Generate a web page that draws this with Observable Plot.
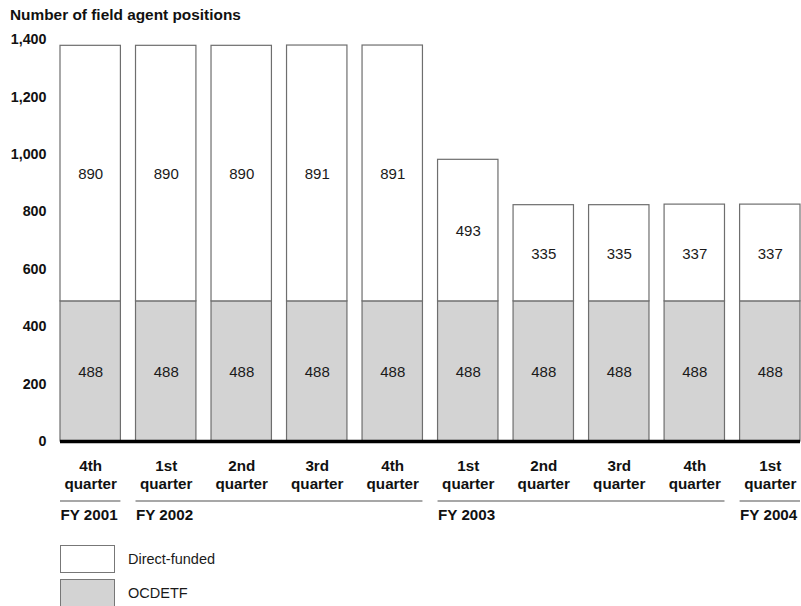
<!DOCTYPE html>
<html>
<head>
<meta charset="utf-8">
<script src="https://cdn.jsdelivr.net/npm/d3@7"></script>
<script src="https://cdn.jsdelivr.net/npm/@observablehq/plot@0.6"></script>
<style>
  body { margin: 0; background: #fff; font-family: "Liberation Sans", Arial, Helvetica, sans-serif; }
  #wrap { position: relative; width: 801px; height: 606px; overflow: hidden; }
  #title { position: absolute; left: 10px; top: 6px; font-weight: bold; font-size: 15.4px; color: #111; white-space: nowrap; }
  #chart { position: absolute; left: 0; top: 28px; }
  #chart svg [aria-label^="y-axis"] text { font-weight: bold; font-size: 14.3px; fill: #111; }
  .sw { position: absolute; left: 60px; width: 55px; height: 28px; box-sizing: border-box; border: 1.5px solid #777; }
  .lt { position: absolute; left: 128px; font-size: 14.5px; color: #1a1a1a; line-height: 18px; white-space: nowrap; }
</style>
</head>
<body>
<div id="wrap">
  <div id="title">Number of field agent positions</div>
  <div id="chart"></div>
  <div id="legend"></div>
</div>
<script>
// ---- data ----
const quarters    = ["4th", "1st", "2nd", "3rd", "4th", "1st", "2nd", "3rd", "4th", "1st"];
const fiscalYears = ["FY 2001", "FY 2002", "FY 2002", "FY 2002", "FY 2002", "FY 2003", "FY 2003", "FY 2003", "FY 2003", "FY 2004"];
const ocdetf       = [488, 488, 488, 488, 488, 488, 488, 488, 488, 488];
const directFunded = [890, 890, 890, 891, 891, 493, 335, 335, 337, 337];
const seriesNames  = ["OCDETF", "Direct-funded"];
const seriesFills  = ["#d3d3d3", "#ffffff"];
const yTicks       = [0, 200, 400, 600, 800, 1000, 1200, 1400];
const legendOrder  = ["Direct-funded", "OCDETF"];

// ---- derived tables ----
const categories = fiscalYears.map((fy, i) => fy + " | " + quarters[i]);
const rows = [
  ...categories.map((c, i) => ({cat: c, series: "OCDETF", value: ocdetf[i]})),
  ...categories.map((c, i) => ({cat: c, series: "Direct-funded", value: directFunded[i]}))
];
const labelRows = [
  ...categories.map((c, i) => ({cat: c, mid: ocdetf[i] / 2, text: String(ocdetf[i])})),
  ...categories.map((c, i) => ({cat: c, mid: ocdetf[i] + directFunded[i] / 2, text: String(directFunded[i])}))
];
const fyGroups = [];
fiscalYears.forEach((fy, i) => {
  const g = fyGroups.find(d => d.label === fy);
  if (g) g.last = categories[i];
  else fyGroups.push({label: fy, first: categories[i], last: categories[i]});
});

const font = '"Liberation Sans", Arial, Helvetica, sans-serif';

const plot = Plot.plot({
  width: 801,
  height: 502,
  marginTop: 11,
  marginBottom: 89,
  marginLeft: 60,
  marginRight: 1,
  style: {fontFamily: font, fontSize: "15px", color: "#111", background: "transparent", overflow: "visible"},
  x: {domain: categories, paddingInner: 0.2, paddingOuter: 0, round: false, axis: null},
  y: {domain: [0, 1400], ticks: yTicks, tickFormat: d3.format(","), tickSize: 0, tickPadding: 14, label: null},
  color: {domain: seriesNames, range: seriesFills},
  marks: [
    Plot.barY(rows, {x: "cat", y: "value", fill: "series", stroke: "#6e6e6e", strokeWidth: 1.2}),
    Plot.text(labelRows, {x: "cat", y: "mid", text: "text", fontSize: 15, fill: "#1a1a1a", dy: 1}),
    Plot.ruleY([0], {stroke: "#000", strokeWidth: 3.6}),
    Plot.text(categories, {x: d => d, y: () => 0, text: (d, i) => quarters[i] + "\nquarter",
      dy: 33, lineHeight: 1.18, lineAnchor: "middle", fontWeight: "bold", fontSize: 15.2, fill: "#111"}),
    Plot.ruleY(fyGroups, {y: () => 0, x1: "first", x2: "last", dy: 59.5, stroke: "#8a8a8a", strokeWidth: 1.5}),
    Plot.text(fyGroups, {x: "first", y: () => 0, text: "label", textAnchor: "start", dx: -30.2, dy: 73.5,
      fontWeight: "bold", fontSize: 15.2, fill: "#111"})
  ]
});
document.getElementById("chart").appendChild(plot);

// ---- legend (HTML, below the plot) ----
const legend = document.getElementById("legend");
const colorScale = plot.scale("color");
legendOrder.forEach((name, i) => {
  const top = 545 + i * 34;
  const sw = document.createElement("div");
  sw.className = "sw";
  sw.style.top = top + "px";
  sw.style.background = colorScale.range[colorScale.domain.indexOf(name)];
  legend.appendChild(sw);
  const lt = document.createElement("div");
  lt.className = "lt";
  lt.style.top = (top + 5) + "px";
  lt.textContent = name;
  legend.appendChild(lt);
});
</script>
</body>
</html>
